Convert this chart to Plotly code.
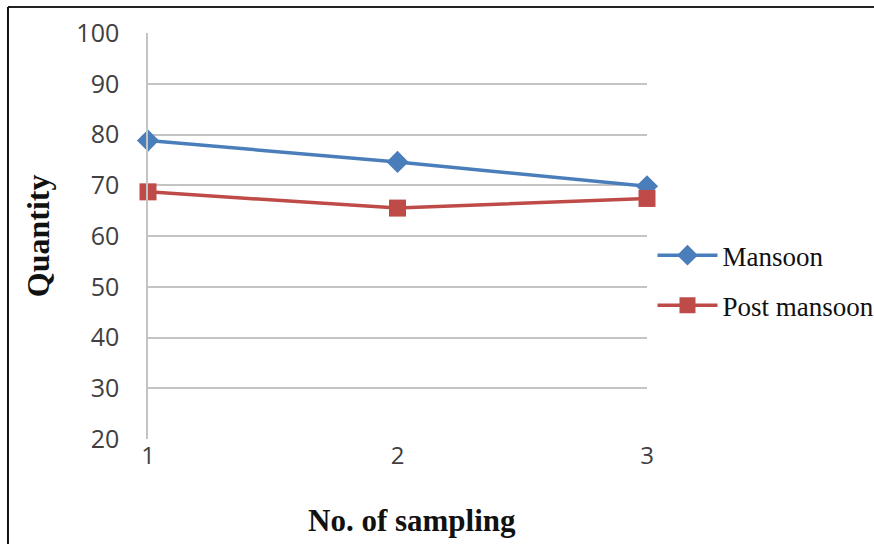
import plotly.graph_objects as go

# Sampling rounds and measured quantities
samplings = [1, 2, 3]
mansoon = [78.8, 74.6, 69.8]
post_mansoon = [68.7, 65.5, 67.4]

y_ticks = [20, 30, 40, 50, 60, 70, 80, 90, 100]

BLUE = "#4a7ebb"
RED = "#be4b48"
GRID = "#c4c4c4"

fig = go.Figure()

fig.add_trace(go.Scatter(
    x=samplings, y=mansoon, name="Mansoon", mode="lines+markers",
    line=dict(color=BLUE, width=3.5),
    marker=dict(symbol="diamond", size=17, color=BLUE),
    cliponaxis=False, legendgroup="a",
))
fig.add_trace(go.Scatter(
    x=samplings, y=post_mansoon, name="Post mansoon", mode="lines+markers",
    line=dict(color=RED, width=3.5),
    marker=dict(symbol="square", size=17, color=RED),
    cliponaxis=False, legendgroup="b",
))

fig.update_layout(
    width=874, height=544,
    margin=dict(l=148, r=227, t=33, b=105, autoexpand=False),
    paper_bgcolor="white", plot_bgcolor="white",
    showlegend=True,
    legend=dict(
        x=1.011, y=0.39, xanchor="left", yanchor="middle",
        font=dict(family="Liberation Serif", size=27, color="#111111"),
        traceorder="grouped", tracegroupgap=12, itemwidth=60,
        bgcolor="rgba(0,0,0,0)",
    ),
    xaxis=dict(
        range=[1, 3], tickvals=samplings, ticktext=[str(s) for s in samplings],
        showgrid=False, zeroline=False, showline=False,
        ticks="", ticklabelstandoff=0,
        tickfont=dict(family="Open Sans", size=24, color="#404040"),
    ),
    yaxis=dict(
        range=[20, 100], tickvals=y_ticks,
        showgrid=True, gridcolor=GRID, gridwidth=1.5,
        zeroline=False, showline=True, linecolor=GRID, linewidth=1.5,
        ticks="", ticklabelstandoff=22,
        tickfont=dict(family="Open Sans", size=25, color="#404040"),
    ),
    annotations=[
        dict(text="<b>No. of sampling</b>", xref="paper", yref="paper",
             x=0.529, y=-0.2, xanchor="center", yanchor="middle", showarrow=False,
             font=dict(family="Liberation Serif", size=31, color="#111111")),
        dict(text="<b>Quantity</b>", xref="paper", yref="paper",
             x=-0.22, y=0.5, xanchor="center", yanchor="middle", showarrow=False,
             textangle=-90,
             font=dict(family="Liberation Serif", size=32, color="#111111")),
    ],
    shapes=[
        # frame: top and left edges
        dict(type="line", xref="paper", yref="paper", x0=-0.2806, x1=1.46,
             y0=1.064, y1=1.064, line=dict(color="#222222", width=2)),
        dict(type="line", xref="paper", yref="paper", x0=-0.2806, x1=-0.2806,
             y0=1.064, y1=-0.3, line=dict(color="#111111", width=2)),
    ],
)

fig.write_html("out.html")
